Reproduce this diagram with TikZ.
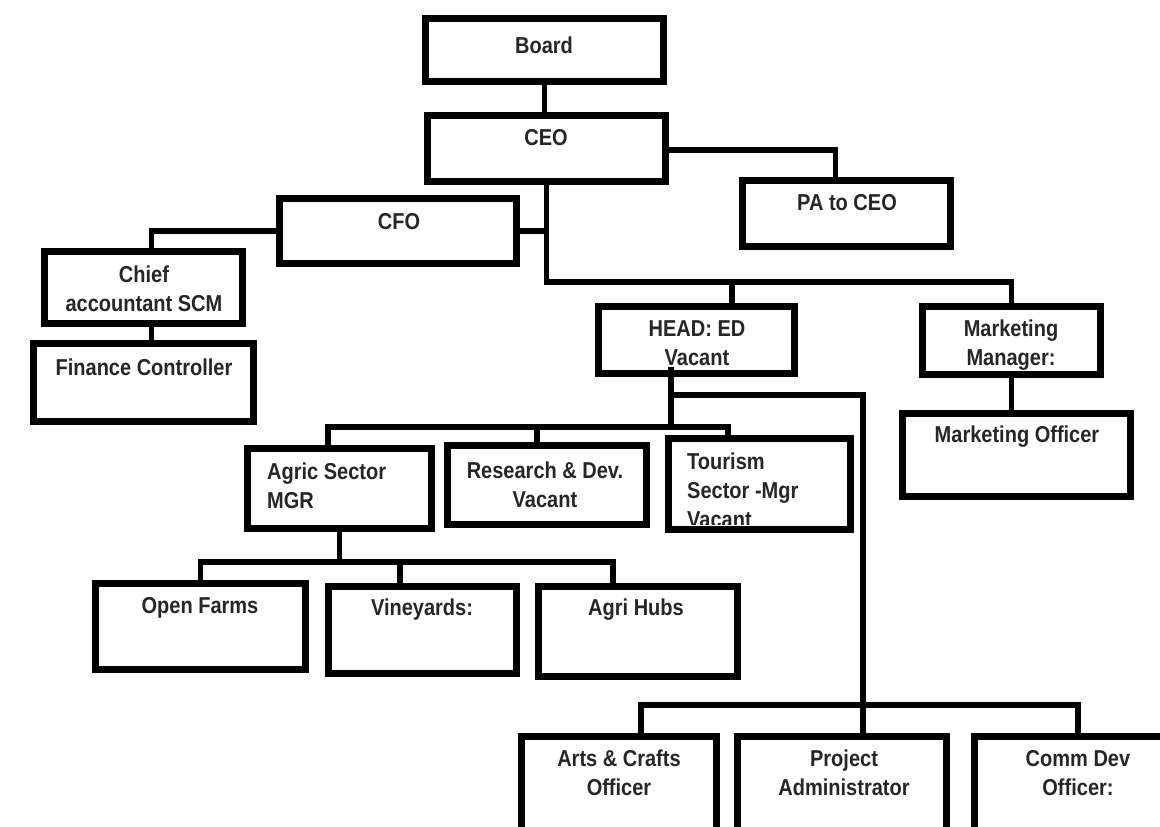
\documentclass[tikz,border=0pt]{standalone}
\usepackage{fontspec}
\newfontfamily\orgfont[FakeStretch=0.87]{Liberation Sans}
\usetikzlibrary{calc}
% \orgbox{name}{x1}{y1}{x2}{y2}: a framed box given by its outer edges
\newcommand\orgbox[5]{%
  \node[box, minimum width={(#4)-(#2)-7}, minimum height={(#5)-(#3)-7}]
    (#1) at ({((#2)+(#4))/2},{((#3)+(#5))/2}) {};}
\begin{document}
\begin{tikzpicture}[x=1pt,y=-1pt,
  box/.style={draw=black,fill=white,line width=7pt,inner sep=0pt,outer sep=0pt},
  wire/.style={draw=black,line width=5.5pt,line join=miter},
  lbl/.style={inner sep=0pt,align=center,text=black!85,
    font=\orgfont\bfseries\fontsize{23}{29}\selectfont},
  lbll/.style={lbl,align=left}]
\useasboundingbox (0,0) rectangle (1160,827);
\clip (0,0) rectangle (1160,827);
\fill[white] (0,0) rectangle (1160,827);

% boxes
\orgbox{board}{422}{15}{667}{85}
\orgbox{ceo}{424}{112}{669}{185}
\orgbox{pa}{739}{177}{954}{250}
\orgbox{cfo}{276}{195}{520}{267}
\orgbox{chief}{41}{248}{246}{327}
\orgbox{fin}{30}{340}{257}{425}
\orgbox{head}{595}{303}{798}{377}
\orgbox{mm}{919}{303}{1104}{378}
\orgbox{mo}{899}{410}{1134}{500}
\orgbox{agric}{244}{445}{435}{532}
\orgbox{rd}{444}{442}{650}{528}
\orgbox{tour}{665}{435}{854}{533}
\orgbox{open}{92}{580}{309}{673}
\orgbox{vine}{325}{583}{520}{677}
\orgbox{hubs}{535}{583}{741}{680}
\orgbox{arts}{518}{733}{720}{900}
\orgbox{proj}{734}{733}{950}{900}
\orgbox{comm}{971}{733}{1180}{900}

% bus levels and drop points
\coordinate (pabus) at (0,150);
\coordinate (mainbus) at (0,282);
\coordinate (headdrop) at (732,0);
\coordinate (secbus) at (0,427);
\coordinate (fieldbus) at (0,395);
\coordinate (botbus) at (0,705);
\coordinate (agbus) at (0,562);
\coordinate (hd) at ($(head.south)+(-25.5,-7)$);
\coordinate (agdrop) at ($(agric.north)+(-11.5,0)$);
\coordinate (rddrop) at ($(rd.north)+(-10,0)$);
\coordinate (tdrop) at ($(tour.north)+(-31.5,0)$);
\coordinate (pdrop) at ($(proj.north)+(21,0)$);
\coordinate (adrop) at ($(arts.north)+(22,0)$);
\coordinate (cdrop) at ($(comm.north)+(2.5,0)$);
\coordinate (vdrop) at ($(vine.north)+(-22.5,0)$);
\coordinate (hdrop) at ($(hubs.north)+(-25,0)$);

% connectors
\draw[wire] (board.south) -- (board.south |- ceo.north);
\draw[wire] (ceo.east |- pabus) -| ($(pa.north)+(-11,0)$);
\draw[wire] (ceo.south) -- (ceo.south |- mainbus) -| (mm.north);
\draw[wire] (headdrop |- mainbus) -- (headdrop |- head.north);
\draw[wire] (cfo.east) -- (cfo.east -| ceo.south);
\draw[wire] (cfo.west) -| ($(chief.north)+(8,0)$);
\draw[wire] ($(chief.south)+(8,0)$) -- ($(fin.north)+(8,0)$);
\draw[wire] (mm.south) -- (mm.south |- mo.north);
\draw[wire] (hd) -- (hd |- secbus);
\draw[wire] (agdrop) -- (agdrop |- secbus) -- (tdrop |- secbus) -- (tdrop);
\draw[wire] (rddrop) -- (rddrop |- secbus);
\draw[wire] (hd |- fieldbus) -| (pdrop);
\draw[wire] (adrop) -- (adrop |- botbus) -- (cdrop |- botbus) -- (cdrop);
\draw[wire] (agric.south) -- (agric.south |- agbus);
\draw[wire] (open.north) -- (open.north |- agbus) -- (hdrop |- agbus) -- (hdrop);
\draw[wire] (vdrop) -- (vdrop |- agbus);

% labels
\node[lbl] (board-t) at (544,45) {Board};
\node[lbl] (ceo-t) at (546,138) {CEO};
\node[lbl] (pa-t) at (847,203) {PA to CEO};
\node[lbl] (cfo-t) at (399,222) {CFO};
\node[lbl] (chief-t) at (144,289) {Chief\\accountant SCM};
\node[lbl] (fin-t) at (144,367) {Finance Controller};
\node[lbl] (head-t) at (697,343) {HEAD: ED\\Vacant};
\node[lbl] (mm-t) at (1011,345) {Marketing\\Manager:};
\node[lbl] (mo-t) at (1017,437) {Marketing Officer};
\node[lbll,anchor=west] (agric-t) at (267,486) {Agric Sector\\MGR};
\node[lbl] (rd-t) at (545,485) {Research \& Dev.\\Vacant};
\begin{scope}
  \clip (668,438) rectangle (851,524);
  \node[lbll,anchor=west] (tour-t) at (687,490) {Tourism\\Sector -Mgr\\Vacant};
\end{scope}
\node[lbl] (open-t) at (200,608) {Open Farms};
\node[lbl] (vine-t) at (422,610) {Vineyards:};
\node[lbl] (hubs-t) at (636,610) {Agri Hubs};
\node[lbl] (arts-t) at (619,773) {Arts \& Crafts\\Officer};
\node[lbl] (proj-t) at (844,773) {Project\\Administrator};
\node[lbl] (comm-t) at (1078,773) {Comm Dev\\Officer:};
\end{tikzpicture}
\end{document}
